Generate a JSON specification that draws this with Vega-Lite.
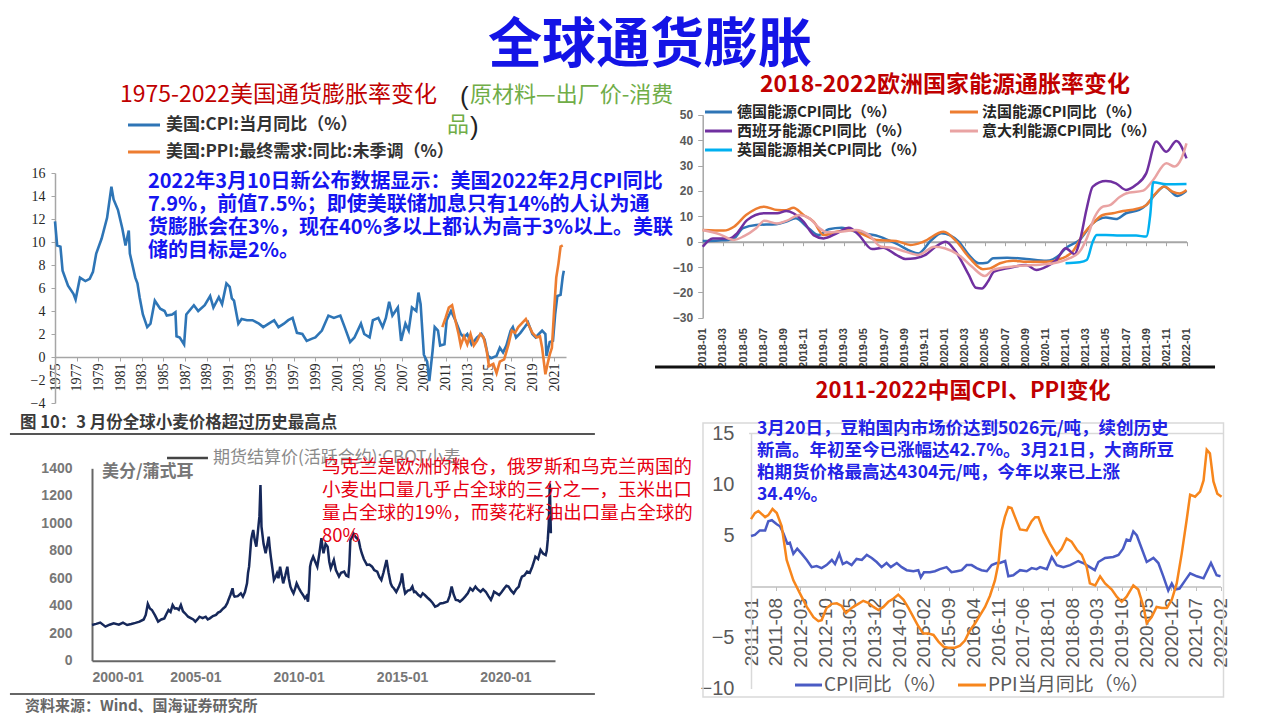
{
"$schema": "https://vega.github.io/schema/vega-lite/v6.json",
"width": 1267, "height": 720,
"autosize": {"type": "none"},
"padding": 0,
"background": "white",
"config": {"view": {"stroke": null}, "axis": {"grid": false}, "text": {"font": "Noto Sans CJK SC"}},
"datasets": {
"us": [
{"t":1975.0,"v":11.8,"s":"CPI"},{"t":1975.2,"v":9.7,"s":"CPI"},{"t":1975.5,"v":9.6,"s":"CPI"},{"t":1975.7,"v":7.5,"s":"CPI"},{"t":1976.2,"v":6.2,"s":"CPI"},{"t":1976.7,"v":5.5,"s":"CPI"},{"t":1976.9,"v":5.0,"s":"CPI"},{"t":1977.3,"v":6.9,"s":"CPI"},{"t":1977.8,"v":6.6,"s":"CPI"},{"t":1978.2,"v":6.8,"s":"CPI"},{"t":1978.5,"v":7.4,"s":"CPI"},{"t":1978.8,"v":9.0,"s":"CPI"},{"t":1979.3,"v":10.3,"s":"CPI"},{"t":1979.8,"v":12.1,"s":"CPI"},{"t":1980.2,"v":14.8,"s":"CPI"},{"t":1980.4,"v":13.7,"s":"CPI"},{"t":1980.8,"v":12.8,"s":"CPI"},{"t":1981.2,"v":11.2,"s":"CPI"},{"t":1981.5,"v":9.7,"s":"CPI"},{"t":1981.8,"v":11.0,"s":"CPI"},{"t":1981.9,"v":9.0,"s":"CPI"},{"t":1982.4,"v":6.9,"s":"CPI"},{"t":1982.6,"v":6.4,"s":"CPI"},{"t":1982.8,"v":5.2,"s":"CPI"},{"t":1983.1,"v":3.7,"s":"CPI"},{"t":1983.5,"v":2.6,"s":"CPI"},{"t":1983.8,"v":2.9,"s":"CPI"},{"t":1984.2,"v":4.9,"s":"CPI"},{"t":1984.7,"v":4.2,"s":"CPI"},{"t":1985.1,"v":4.0,"s":"CPI"},{"t":1985.3,"v":3.6,"s":"CPI"},{"t":1985.8,"v":3.7,"s":"CPI"},{"t":1986.1,"v":3.9,"s":"CPI"},{"t":1986.2,"v":1.8,"s":"CPI"},{"t":1986.5,"v":1.7,"s":"CPI"},{"t":1986.9,"v":1.1,"s":"CPI"},{"t":1987.1,"v":3.7,"s":"CPI"},{"t":1987.8,"v":4.5,"s":"CPI"},{"t":1988.2,"v":4.0,"s":"CPI"},{"t":1988.8,"v":4.5,"s":"CPI"},{"t":1989.3,"v":5.3,"s":"CPI"},{"t":1989.6,"v":4.3,"s":"CPI"},{"t":1990.1,"v":5.2,"s":"CPI"},{"t":1990.4,"v":4.6,"s":"CPI"},{"t":1990.8,"v":6.4,"s":"CPI"},{"t":1991.1,"v":6.1,"s":"CPI"},{"t":1991.3,"v":5.1,"s":"CPI"},{"t":1991.5,"v":4.9,"s":"CPI"},{"t":1991.9,"v":2.9,"s":"CPI"},{"t":1992.2,"v":3.3,"s":"CPI"},{"t":1992.7,"v":3.2,"s":"CPI"},{"t":1993.2,"v":3.2,"s":"CPI"},{"t":1993.8,"v":2.9,"s":"CPI"},{"t":1994.2,"v":2.6,"s":"CPI"},{"t":1994.7,"v":2.9,"s":"CPI"},{"t":1995.2,"v":3.2,"s":"CPI"},{"t":1995.6,"v":2.6,"s":"CPI"},{"t":1996.1,"v":2.9,"s":"CPI"},{"t":1996.5,"v":3.2,"s":"CPI"},{"t":1996.9,"v":3.4,"s":"CPI"},{"t":1997.3,"v":2.1,"s":"CPI"},{"t":1997.8,"v":2.0,"s":"CPI"},{"t":1998.2,"v":1.4,"s":"CPI"},{"t":1998.7,"v":1.6,"s":"CPI"},{"t":1999.0,"v":1.7,"s":"CPI"},{"t":1999.6,"v":2.3,"s":"CPI"},{"t":2000.2,"v":3.6,"s":"CPI"},{"t":2000.7,"v":3.4,"s":"CPI"},{"t":2001.3,"v":3.6,"s":"CPI"},{"t":2001.7,"v":2.6,"s":"CPI"},{"t":2002.2,"v":1.3,"s":"CPI"},{"t":2002.6,"v":1.7,"s":"CPI"},{"t":2003.2,"v":2.9,"s":"CPI"},{"t":2003.5,"v":2.0,"s":"CPI"},{"t":2004.0,"v":1.7,"s":"CPI"},{"t":2004.3,"v":3.2,"s":"CPI"},{"t":2004.8,"v":3.4,"s":"CPI"},{"t":2005.2,"v":2.6,"s":"CPI"},{"t":2005.5,"v":3.4,"s":"CPI"},{"t":2005.8,"v":4.8,"s":"CPI"},{"t":2006.1,"v":3.6,"s":"CPI"},{"t":2006.6,"v":4.3,"s":"CPI"},{"t":2006.9,"v":1.4,"s":"CPI"},{"t":2007.3,"v":2.9,"s":"CPI"},{"t":2007.6,"v":2.3,"s":"CPI"},{"t":2007.9,"v":4.3,"s":"CPI"},{"t":2008.3,"v":4.0,"s":"CPI"},{"t":2008.5,"v":5.6,"s":"CPI"},{"t":2008.7,"v":4.6,"s":"CPI"},{"t":2009.0,"v":0.2,"s":"CPI"},{"t":2009.3,"v":-0.4,"s":"CPI"},{"t":2009.5,"v":-2.1,"s":"CPI"},{"t":2009.8,"v":0.5,"s":"CPI"},{"t":2010.0,"v":2.6,"s":"CPI"},{"t":2010.3,"v":2.3,"s":"CPI"},{"t":2010.5,"v":1.0,"s":"CPI"},{"t":2010.9,"v":1.1,"s":"CPI"},{"t":2011.1,"v":3.2,"s":"CPI"},{"t":2011.5,"v":4.0,"s":"CPI"},{"t":2011.9,"v":3.2,"s":"CPI"},{"t":2012.4,"v":2.0,"s":"CPI"},{"t":2012.7,"v":1.7,"s":"CPI"},{"t":2013.0,"v":2.0,"s":"CPI"},{"t":2013.4,"v":1.1,"s":"CPI"},{"t":2013.9,"v":1.7,"s":"CPI"},{"t":2014.3,"v":2.0,"s":"CPI"},{"t":2014.6,"v":1.5,"s":"CPI"},{"t":2014.9,"v":0.1,"s":"CPI"},{"t":2015.2,"v":-0.1,"s":"CPI"},{"t":2015.7,"v":0.1,"s":"CPI"},{"t":2016.0,"v":0.8,"s":"CPI"},{"t":2016.3,"v":0.4,"s":"CPI"},{"t":2016.6,"v":1.0,"s":"CPI"},{"t":2017.0,"v":2.3,"s":"CPI"},{"t":2017.2,"v":2.6,"s":"CPI"},{"t":2017.5,"v":1.7,"s":"CPI"},{"t":2017.9,"v":2.1,"s":"CPI"},{"t":2018.3,"v":2.6,"s":"CPI"},{"t":2018.6,"v":3.0,"s":"CPI"},{"t":2019.0,"v":2.0,"s":"CPI"},{"t":2019.3,"v":1.7,"s":"CPI"},{"t":2019.6,"v":2.0,"s":"CPI"},{"t":2019.9,"v":2.3,"s":"CPI"},{"t":2020.2,"v":2.0,"s":"CPI"},{"t":2020.3,"v":0.1,"s":"CPI"},{"t":2020.6,"v":1.3,"s":"CPI"},{"t":2020.9,"v":1.4,"s":"CPI"},{"t":2021.1,"v":3.7,"s":"CPI"},{"t":2021.3,"v":5.3,"s":"CPI"},{"t":2021.6,"v":5.4,"s":"CPI"},{"t":2021.8,"v":7.0,"s":"CPI"},{"t":2021.9,"v":7.5,"s":"CPI"},
{"t":2010.7,"v":2.6,"s":"PPI"},{"t":2011.0,"v":3.4,"s":"PPI"},{"t":2011.3,"v":4.3,"s":"PPI"},{"t":2011.6,"v":4.5,"s":"PPI"},{"t":2011.9,"v":3.2,"s":"PPI"},{"t":2012.2,"v":2.0,"s":"PPI"},{"t":2012.4,"v":1.0,"s":"PPI"},{"t":2012.7,"v":1.8,"s":"PPI"},{"t":2013.0,"v":1.1,"s":"PPI"},{"t":2013.3,"v":2.0,"s":"PPI"},{"t":2013.6,"v":1.0,"s":"PPI"},{"t":2013.9,"v":1.4,"s":"PPI"},{"t":2014.2,"v":2.0,"s":"PPI"},{"t":2014.5,"v":1.7,"s":"PPI"},{"t":2014.8,"v":0.5,"s":"PPI"},{"t":2015.0,"v":-0.8,"s":"PPI"},{"t":2015.4,"v":-0.6,"s":"PPI"},{"t":2015.7,"v":-1.4,"s":"PPI"},{"t":2016.0,"v":-0.4,"s":"PPI"},{"t":2016.4,"v":-0.2,"s":"PPI"},{"t":2016.8,"v":1.1,"s":"PPI"},{"t":2017.1,"v":2.3,"s":"PPI"},{"t":2017.4,"v":2.1,"s":"PPI"},{"t":2017.7,"v":2.6,"s":"PPI"},{"t":2018.0,"v":2.9,"s":"PPI"},{"t":2018.4,"v":3.3,"s":"PPI"},{"t":2018.7,"v":2.7,"s":"PPI"},{"t":2019.0,"v":2.1,"s":"PPI"},{"t":2019.4,"v":1.7,"s":"PPI"},{"t":2019.7,"v":1.8,"s":"PPI"},{"t":2019.9,"v":0.8,"s":"PPI"},{"t":2020.2,"v":-1.5,"s":"PPI"},{"t":2020.4,"v":-0.6,"s":"PPI"},{"t":2020.6,"v":0.2,"s":"PPI"},{"t":2020.8,"v":0.8,"s":"PPI"},{"t":2021.0,"v":4.0,"s":"PPI"},{"t":2021.2,"v":6.9,"s":"PPI"},{"t":2021.4,"v":8.1,"s":"PPI"},{"t":2021.6,"v":9.6,"s":"PPI"},{"t":2021.8,"v":9.7,"s":"PPI"}
],
"eu": [
{"m":0,"v":0.3,"s":"DE"},{"m":1.6,"v":0.5,"s":"DE"},{"m":3.0,"v":1.0,"s":"DE"},{"m":4.0,"v":5.3,"s":"DE"},{"m":5.3,"v":6.6,"s":"DE"},{"m":7.3,"v":6.9,"s":"DE"},{"m":8.3,"v":7.9,"s":"DE"},{"m":9.2,"v":9.2,"s":"DE"},{"m":10.5,"v":5.3,"s":"DE"},{"m":11.5,"v":2.6,"s":"DE"},{"m":12.5,"v":4.9,"s":"DE"},{"m":13.8,"v":5.5,"s":"DE"},{"m":15.4,"v":3.6,"s":"DE"},{"m":17.4,"v":2.2,"s":"DE"},{"m":19.1,"v":-0.6,"s":"DE"},{"m":21.4,"v":-4.6,"s":"DE"},{"m":22.7,"v":0.7,"s":"DE"},{"m":23.7,"v":3.3,"s":"DE"},{"m":25.4,"v":0,"s":"DE"},{"m":26.4,"v":-5.2,"s":"DE"},{"m":27.4,"v":-8.5,"s":"DE"},{"m":28.2,"v":-8.3,"s":"DE"},{"m":28.8,"v":-6.5,"s":"DE"},{"m":30.2,"v":-6.3,"s":"DE"},{"m":32.1,"v":-6.8,"s":"DE"},{"m":34.1,"v":-7.5,"s":"DE"},{"m":35.4,"v":-5.2,"s":"DE"},{"m":36.0,"v":-2.6,"s":"DE"},{"m":37.4,"v":0.7,"s":"DE"},{"m":38.7,"v":7.2,"s":"DE"},{"m":40.0,"v":9.5,"s":"DE"},{"m":41.0,"v":8.9,"s":"DE"},{"m":42.0,"v":11.2,"s":"DE"},{"m":43.3,"v":12.5,"s":"DE"},{"m":44.0,"v":14.4,"s":"DE"},{"m":45.0,"v":19.1,"s":"DE"},{"m":45.8,"v":21.7,"s":"DE"},{"m":46.3,"v":20.4,"s":"DE"},{"m":47.1,"v":18.0,"s":"DE"},{"m":48.0,"v":20.0,"s":"DE"},
{"m":0,"v":4.6,"s":"FR"},{"m":2.1,"v":4.4,"s":"FR"},{"m":3.1,"v":5.9,"s":"FR"},{"m":4.3,"v":10.5,"s":"FR"},{"m":6.1,"v":13.8,"s":"FR"},{"m":7.4,"v":12.5,"s":"FR"},{"m":8.3,"v":12.4,"s":"FR"},{"m":9.0,"v":13.4,"s":"FR"},{"m":10.0,"v":10.5,"s":"FR"},{"m":11.0,"v":7.9,"s":"FR"},{"m":12.0,"v":2.6,"s":"FR"},{"m":13.3,"v":3.9,"s":"FR"},{"m":14.6,"v":4.6,"s":"FR"},{"m":15.9,"v":2.9,"s":"FR"},{"m":17.2,"v":0.7,"s":"FR"},{"m":19.2,"v":0.3,"s":"FR"},{"m":20.6,"v":-1.3,"s":"FR"},{"m":21.9,"v":0,"s":"FR"},{"m":23.9,"v":3.9,"s":"FR"},{"m":25.2,"v":0,"s":"FR"},{"m":26.5,"v":-6.5,"s":"FR"},{"m":27.8,"v":-10.8,"s":"FR"},{"m":28.5,"v":-10.5,"s":"FR"},{"m":29.5,"v":-8.5,"s":"FR"},{"m":30.8,"v":-7.5,"s":"FR"},{"m":32.1,"v":-7.9,"s":"FR"},{"m":34.1,"v":-7.9,"s":"FR"},{"m":35.7,"v":-6.5,"s":"FR"},{"m":36.7,"v":-3.9,"s":"FR"},{"m":37.7,"v":2.6,"s":"FR"},{"m":38.7,"v":7.2,"s":"FR"},{"m":39.7,"v":10.5,"s":"FR"},{"m":40.7,"v":11.2,"s":"FR"},{"m":41.7,"v":12.1,"s":"FR"},{"m":43.0,"v":12.9,"s":"FR"},{"m":44.0,"v":14.4,"s":"FR"},{"m":44.8,"v":18.4,"s":"FR"},{"m":45.8,"v":21.7,"s":"FR"},{"m":46.6,"v":19.7,"s":"FR"},{"m":47.3,"v":19.0,"s":"FR"},{"m":48.0,"v":20.4,"s":"FR"},
{"m":0,"v":-2.0,"s":"ES"},{"m":1.0,"v":1.3,"s":"ES"},{"m":2.7,"v":1.3,"s":"ES"},{"m":3.4,"v":3.3,"s":"ES"},{"m":4.4,"v":8.5,"s":"ES"},{"m":6.1,"v":11.2,"s":"ES"},{"m":7.4,"v":11.2,"s":"ES"},{"m":8.3,"v":12.1,"s":"ES"},{"m":9.0,"v":11.2,"s":"ES"},{"m":10.0,"v":7.9,"s":"ES"},{"m":11.0,"v":2.6,"s":"ES"},{"m":12.0,"v":1.3,"s":"ES"},{"m":13.3,"v":3.3,"s":"ES"},{"m":14.5,"v":5.5,"s":"ES"},{"m":15.5,"v":2.6,"s":"ES"},{"m":16.8,"v":-2.9,"s":"ES"},{"m":17.9,"v":-2.4,"s":"ES"},{"m":19.2,"v":-5.2,"s":"ES"},{"m":20.1,"v":-6.8,"s":"ES"},{"m":21.1,"v":-6.5,"s":"ES"},{"m":22.1,"v":-5.2,"s":"ES"},{"m":23.1,"v":-2.0,"s":"ES"},{"m":24.1,"v":0,"s":"ES"},{"m":25.1,"v":-3.9,"s":"ES"},{"m":26.4,"v":-13.1,"s":"ES"},{"m":27.1,"v":-18.1,"s":"ES"},{"m":27.7,"v":-18.4,"s":"ES"},{"m":28.3,"v":-15.7,"s":"ES"},{"m":28.9,"v":-11.8,"s":"ES"},{"m":30.2,"v":-10.5,"s":"ES"},{"m":32.1,"v":-9.2,"s":"ES"},{"m":33.1,"v":-11.1,"s":"ES"},{"m":34.1,"v":-9.8,"s":"ES"},{"m":35.1,"v":-7.2,"s":"ES"},{"m":36.0,"v":-2.6,"s":"ES"},{"m":36.9,"v":-4.9,"s":"ES"},{"m":37.4,"v":0,"s":"ES"},{"m":38.1,"v":13.1,"s":"ES"},{"m":38.7,"v":21.7,"s":"ES"},{"m":40.0,"v":23.9,"s":"ES"},{"m":41.0,"v":23.0,"s":"ES"},{"m":42.0,"v":20.4,"s":"ES"},{"m":43.0,"v":22.4,"s":"ES"},{"m":44.0,"v":26.9,"s":"ES"},{"m":45.0,"v":39.4,"s":"ES"},{"m":46.0,"v":35.4,"s":"ES"},{"m":47.0,"v":39.6,"s":"ES"},{"m":48.0,"v":32.8,"s":"ES"},
{"m":0,"v":4.6,"s":"IT"},{"m":1.7,"v":2.9,"s":"IT"},{"m":3.1,"v":0.7,"s":"IT"},{"m":4.1,"v":2.2,"s":"IT"},{"m":5.3,"v":5.3,"s":"IT"},{"m":6.1,"v":8.2,"s":"IT"},{"m":7.4,"v":7.2,"s":"IT"},{"m":8.3,"v":8.2,"s":"IT"},{"m":9.6,"v":10.5,"s":"IT"},{"m":10.6,"v":9.2,"s":"IT"},{"m":11.6,"v":5.3,"s":"IT"},{"m":12.3,"v":3.7,"s":"IT"},{"m":13.6,"v":3.9,"s":"IT"},{"m":15.2,"v":4.6,"s":"IT"},{"m":16.5,"v":2.6,"s":"IT"},{"m":17.7,"v":-2.0,"s":"IT"},{"m":18.8,"v":-2.4,"s":"IT"},{"m":20.1,"v":-3.9,"s":"IT"},{"m":21.4,"v":-5.2,"s":"IT"},{"m":23.0,"v":-2.0,"s":"IT"},{"m":24.0,"v":-2.6,"s":"IT"},{"m":25.4,"v":-5.2,"s":"IT"},{"m":26.7,"v":-9.8,"s":"IT"},{"m":28.0,"v":-13.5,"s":"IT"},{"m":28.8,"v":-11.1,"s":"IT"},{"m":30.8,"v":-9.8,"s":"IT"},{"m":32.8,"v":-9.2,"s":"IT"},{"m":34.8,"v":-8.5,"s":"IT"},{"m":36.4,"v":-6.5,"s":"IT"},{"m":37.4,"v":-3.9,"s":"IT"},{"m":38.1,"v":1.3,"s":"IT"},{"m":38.9,"v":9.8,"s":"IT"},{"m":39.7,"v":13.8,"s":"IT"},{"m":40.4,"v":14.4,"s":"IT"},{"m":41.4,"v":17.7,"s":"IT"},{"m":42.0,"v":19.0,"s":"IT"},{"m":43.7,"v":20.1,"s":"IT"},{"m":44.7,"v":24.3,"s":"IT"},{"m":46.0,"v":30.9,"s":"IT"},{"m":46.8,"v":29.6,"s":"IT"},{"m":47.5,"v":32.8,"s":"IT"},{"m":48.0,"v":38.7,"s":"IT"},
{"m":36.0,"v":-8.5,"s":"UK"},{"m":37.4,"v":-8.1,"s":"UK"},{"m":38.1,"v":-7.2,"s":"UK"},{"m":38.7,"v":0,"s":"UK"},{"m":39.1,"v":2.6,"s":"UK"},{"m":40.0,"v":2.6,"s":"UK"},{"m":41.4,"v":2.4,"s":"UK"},{"m":43.0,"v":2.4,"s":"UK"},{"m":44.0,"v":2.0,"s":"UK"},{"m":44.4,"v":10.5,"s":"UK"},{"m":44.7,"v":23.4,"s":"UK"},{"m":46.0,"v":22.6,"s":"UK"},{"m":48.0,"v":22.7,"s":"UK"}
],
"wheat": [
{"t":2000.0,"v":260},{"t":2000.2,"v":268},{"t":2000.4,"v":277},{"t":2000.65,"v":248},{"t":2000.85,"v":262},{"t":2001.05,"v":272},{"t":2001.3,"v":262},{"t":2001.5,"v":277},{"t":2001.7,"v":260},{"t":2001.9,"v":267},{"t":2002.1,"v":275},{"t":2002.3,"v":284},{"t":2002.5,"v":300},{"t":2002.6,"v":333},{"t":2002.7,"v":413},{"t":2002.8,"v":380},{"t":2002.9,"v":369},{"t":2003.05,"v":330},{"t":2003.2,"v":284},{"t":2003.35,"v":300},{"t":2003.5,"v":308},{"t":2003.6,"v":340},{"t":2003.7,"v":369},{"t":2003.8,"v":355},{"t":2003.9,"v":405},{"t":2004.0,"v":380},{"t":2004.1,"v":381},{"t":2004.2,"v":370},{"t":2004.3,"v":405},{"t":2004.4,"v":360},{"t":2004.5,"v":345},{"t":2004.65,"v":320},{"t":2004.8,"v":308},{"t":2004.9,"v":300},{"t":2005.0,"v":284},{"t":2005.1,"v":300},{"t":2005.2,"v":320},{"t":2005.35,"v":310},{"t":2005.5,"v":320},{"t":2005.6,"v":300},{"t":2005.7,"v":308},{"t":2005.85,"v":325},{"t":2006.0,"v":333},{"t":2006.1,"v":350},{"t":2006.2,"v":357},{"t":2006.35,"v":380},{"t":2006.45,"v":393},{"t":2006.55,"v":420},{"t":2006.6,"v":442},{"t":2006.7,"v":480},{"t":2006.8,"v":527},{"t":2006.85,"v":480},{"t":2006.9,"v":466},{"t":2007.05,"v":470},{"t":2007.2,"v":490},{"t":2007.3,"v":466},{"t":2007.4,"v":500},{"t":2007.5,"v":563},{"t":2007.55,"v":640},{"t":2007.6,"v":684},{"t":2007.65,"v":780},{"t":2007.7,"v":879},{"t":2007.75,"v":920},{"t":2007.8,"v":951},{"t":2007.87,"v":880},{"t":2007.95,"v":830},{"t":2008.0,"v":900},{"t":2008.05,"v":976},{"t":2008.1,"v":1050},{"t":2008.15,"v":1279},{"t":2008.18,"v":1100},{"t":2008.2,"v":976},{"t":2008.3,"v":850},{"t":2008.4,"v":782},{"t":2008.5,"v":860},{"t":2008.55,"v":903},{"t":2008.6,"v":820},{"t":2008.65,"v":757},{"t":2008.72,"v":680},{"t":2008.8,"v":587},{"t":2008.88,"v":610},{"t":2008.95,"v":636},{"t":2009.02,"v":600},{"t":2009.1,"v":684},{"t":2009.18,"v":620},{"t":2009.25,"v":563},{"t":2009.35,"v":620},{"t":2009.45,"v":684},{"t":2009.52,"v":600},{"t":2009.6,"v":539},{"t":2009.68,"v":510},{"t":2009.75,"v":490},{"t":2009.82,"v":520},{"t":2009.9,"v":563},{"t":2010.0,"v":530},{"t":2010.1,"v":502},{"t":2010.2,"v":480},{"t":2010.3,"v":454},{"t":2010.38,"v":470},{"t":2010.45,"v":430},{"t":2010.5,"v":520},{"t":2010.55,"v":684},{"t":2010.6,"v":720},{"t":2010.7,"v":757},{"t":2010.8,"v":720},{"t":2010.9,"v":684},{"t":2011.0,"v":780},{"t":2011.1,"v":891},{"t":2011.15,"v":830},{"t":2011.2,"v":782},{"t":2011.3,"v":850},{"t":2011.4,"v":830},{"t":2011.48,"v":720},{"t":2011.55,"v":672},{"t":2011.62,"v":700},{"t":2011.7,"v":733},{"t":2011.8,"v":660},{"t":2011.95,"v":612},{"t":2012.05,"v":640},{"t":2012.2,"v":648},{"t":2012.3,"v":620},{"t":2012.4,"v":612},{"t":2012.45,"v":700},{"t":2012.5,"v":879},{"t":2012.58,"v":900},{"t":2012.65,"v":927},{"t":2012.75,"v":900},{"t":2012.9,"v":879},{"t":2012.98,"v":820},{"t":2013.05,"v":782},{"t":2013.15,"v":740},{"t":2013.3,"v":697},{"t":2013.42,"v":700},{"t":2013.55,"v":684},{"t":2013.65,"v":660},{"t":2013.8,"v":648},{"t":2013.9,"v":610},{"t":2014.0,"v":587},{"t":2014.1,"v":640},{"t":2014.25,"v":733},{"t":2014.35,"v":640},{"t":2014.45,"v":563},{"t":2014.52,"v":540},{"t":2014.6,"v":527},{"t":2014.72,"v":500},{"t":2014.85,"v":539},{"t":2014.95,"v":580},{"t":2015.0,"v":636},{"t":2015.08,"v":540},{"t":2015.15,"v":490},{"t":2015.28,"v":510},{"t":2015.4,"v":515},{"t":2015.5,"v":540},{"t":2015.58,"v":500},{"t":2015.65,"v":502},{"t":2015.78,"v":480},{"t":2015.9,"v":466},{"t":2016.0,"v":490},{"t":2016.1,"v":478},{"t":2016.22,"v":460},{"t":2016.35,"v":442},{"t":2016.48,"v":420},{"t":2016.6,"v":393},{"t":2016.72,"v":400},{"t":2016.85,"v":417},{"t":2017.0,"v":420},{"t":2017.2,"v":430},{"t":2017.3,"v":470},{"t":2017.4,"v":539},{"t":2017.5,"v":480},{"t":2017.6,"v":442},{"t":2017.7,"v":440},{"t":2017.8,"v":430},{"t":2017.92,"v":445},{"t":2018.05,"v":466},{"t":2018.18,"v":490},{"t":2018.3,"v":527},{"t":2018.42,"v":510},{"t":2018.55,"v":539},{"t":2018.65,"v":520},{"t":2018.8,"v":502},{"t":2018.92,"v":520},{"t":2019.05,"v":502},{"t":2019.18,"v":470},{"t":2019.3,"v":442},{"t":2019.38,"v":470},{"t":2019.45,"v":502},{"t":2019.58,"v":490},{"t":2019.7,"v":478},{"t":2019.82,"v":500},{"t":2019.95,"v":527},{"t":2020.05,"v":545},{"t":2020.15,"v":539},{"t":2020.28,"v":510},{"t":2020.4,"v":490},{"t":2020.52,"v":520},{"t":2020.65,"v":539},{"t":2020.72,"v":580},{"t":2020.8,"v":612},{"t":2020.92,"v":620},{"t":2021.05,"v":648},{"t":2021.18,"v":640},{"t":2021.3,"v":684},{"t":2021.38,"v":720},{"t":2021.45,"v":757},{"t":2021.58,"v":740},{"t":2021.7,"v":806},{"t":2021.82,"v":780},{"t":2021.95,"v":769},{"t":2022.0,"v":800},{"t":2022.05,"v":879},{"t":2022.1,"v":1000},{"t":2022.15,"v":1291},{"t":2022.2,"v":927}
],
"cn": [
{"m":0,"v":4.95,"s":"CPI"},{"m":1.1,"v":5.05,"s":"CPI"},{"m":2.5,"v":5.5,"s":"CPI"},{"m":4,"v":5.5,"s":"CPI"},{"m":4.9,"v":6.4,"s":"CPI"},{"m":5.9,"v":6.5,"s":"CPI"},{"m":7.3,"v":6.1,"s":"CPI"},{"m":8.2,"v":5.9,"s":"CPI"},{"m":9.2,"v":5.2,"s":"CPI"},{"m":10.3,"v":4.2,"s":"CPI"},{"m":11,"v":4.3,"s":"CPI"},{"m":12,"v":3.2,"s":"CPI"},{"m":13.1,"v":3.7,"s":"CPI"},{"m":14.4,"v":3.2,"s":"CPI"},{"m":15.8,"v":2.6,"s":"CPI"},{"m":17.2,"v":1.9,"s":"CPI"},{"m":18.6,"v":2.0,"s":"CPI"},{"m":20,"v":1.8,"s":"CPI"},{"m":21.4,"v":2.1,"s":"CPI"},{"m":22.9,"v":2.6,"s":"CPI"},{"m":23.8,"v":2.2,"s":"CPI"},{"m":25,"v":3.2,"s":"CPI"},{"m":26,"v":2.2,"s":"CPI"},{"m":27.1,"v":2.4,"s":"CPI"},{"m":28.5,"v":2.1,"s":"CPI"},{"m":29.9,"v":2.7,"s":"CPI"},{"m":31.4,"v":2.6,"s":"CPI"},{"m":32.8,"v":3.1,"s":"CPI"},{"m":34.2,"v":2.8,"s":"CPI"},{"m":35.6,"v":2.4,"s":"CPI"},{"m":37,"v":1.9,"s":"CPI"},{"m":38.4,"v":2.3,"s":"CPI"},{"m":39.6,"v":1.9,"s":"CPI"},{"m":41.3,"v":2.3,"s":"CPI"},{"m":42.7,"v":1.9,"s":"CPI"},{"m":44.1,"v":1.6,"s":"CPI"},{"m":46,"v":1.5,"s":"CPI"},{"m":47.4,"v":1.6,"s":"CPI"},{"m":48.1,"v":0.9,"s":"CPI"},{"m":49,"v":1.4,"s":"CPI"},{"m":50.7,"v":1.4,"s":"CPI"},{"m":52.1,"v":1.5,"s":"CPI"},{"m":53.5,"v":1.7,"s":"CPI"},{"m":55.4,"v":1.9,"s":"CPI"},{"m":56.8,"v":1.4,"s":"CPI"},{"m":58.3,"v":1.5,"s":"CPI"},{"m":59.7,"v":1.6,"s":"CPI"},{"m":61.1,"v":2.1,"s":"CPI"},{"m":62.5,"v":2.1,"s":"CPI"},{"m":63.9,"v":1.8,"s":"CPI"},{"m":65.3,"v":1.6,"s":"CPI"},{"m":66.8,"v":1.5,"s":"CPI"},{"m":68.2,"v":2.1,"s":"CPI"},{"m":69.6,"v":2.3,"s":"CPI"},{"m":70.5,"v":2.3,"s":"CPI"},{"m":72,"v":2.5,"s":"CPI"},{"m":72.9,"v":1.0,"s":"CPI"},{"m":74.3,"v":1.1,"s":"CPI"},{"m":76.2,"v":1.6,"s":"CPI"},{"m":78.1,"v":1.5,"s":"CPI"},{"m":79.5,"v":1.8,"s":"CPI"},{"m":80.9,"v":1.7,"s":"CPI"},{"m":81.9,"v":1.9,"s":"CPI"},{"m":83.8,"v":1.7,"s":"CPI"},{"m":85.2,"v":2.9,"s":"CPI"},{"m":86.6,"v":2.1,"s":"CPI"},{"m":88.5,"v":1.9,"s":"CPI"},{"m":90.4,"v":2.1,"s":"CPI"},{"m":92.7,"v":2.5,"s":"CPI"},{"m":94.1,"v":2.3,"s":"CPI"},{"m":96,"v":1.9,"s":"CPI"},{"m":97.4,"v":1.6,"s":"CPI"},{"m":98.4,"v":2.4,"s":"CPI"},{"m":100.3,"v":2.8,"s":"CPI"},{"m":102.6,"v":2.9,"s":"CPI"},{"m":104.1,"v":3.1,"s":"CPI"},{"m":105.4,"v":3.7,"s":"CPI"},{"m":106.4,"v":4.6,"s":"CPI"},{"m":107.4,"v":4.5,"s":"CPI"},{"m":108.3,"v":5.4,"s":"CPI"},{"m":109.3,"v":5.0,"s":"CPI"},{"m":110.7,"v":3.7,"s":"CPI"},{"m":112.1,"v":2.4,"s":"CPI"},{"m":114,"v":2.8,"s":"CPI"},{"m":115.4,"v":2.3,"s":"CPI"},{"m":116.8,"v":1.0,"s":"CPI"},{"m":118.2,"v":-0.4,"s":"CPI"},{"m":119.2,"v":0.3,"s":"CPI"},{"m":120.1,"v":-0.3,"s":"CPI"},{"m":121.4,"v":-0.2,"s":"CPI"},{"m":123,"v":0.6,"s":"CPI"},{"m":124.4,"v":1.3,"s":"CPI"},{"m":126.3,"v":1.0,"s":"CPI"},{"m":128.2,"v":0.8,"s":"CPI"},{"m":130.3,"v":2.3,"s":"CPI"},{"m":131.9,"v":1.1,"s":"CPI"},{"m":133,"v":1.0,"s":"CPI"},
{"m":0,"v":6.6,"s":"PPI"},{"m":1.1,"v":7.2,"s":"PPI"},{"m":2.1,"v":7.4,"s":"PPI"},{"m":4,"v":6.8,"s":"PPI"},{"m":4.9,"v":7.0,"s":"PPI"},{"m":6.1,"v":7.6,"s":"PPI"},{"m":7.3,"v":7.2,"s":"PPI"},{"m":8.7,"v":5.9,"s":"PPI"},{"m":10.1,"v":2.6,"s":"PPI"},{"m":12,"v":0.6,"s":"PPI"},{"m":13.9,"v":-0.7,"s":"PPI"},{"m":15.8,"v":-2.0,"s":"PPI"},{"m":17.7,"v":-3.0,"s":"PPI"},{"m":19.1,"v":-3.4,"s":"PPI"},{"m":20,"v":-3.3,"s":"PPI"},{"m":21.4,"v":-2.1,"s":"PPI"},{"m":22.9,"v":-1.7,"s":"PPI"},{"m":24.3,"v":-1.65,"s":"PPI"},{"m":25.7,"v":-1.9,"s":"PPI"},{"m":26.9,"v":-2.6,"s":"PPI"},{"m":28.5,"v":-2.1,"s":"PPI"},{"m":30.4,"v":-1.7,"s":"PPI"},{"m":31.8,"v":-1.4,"s":"PPI"},{"m":33.2,"v":-1.6,"s":"PPI"},{"m":34.7,"v":-2.0,"s":"PPI"},{"m":36.1,"v":-2.3,"s":"PPI"},{"m":37.5,"v":-2.0,"s":"PPI"},{"m":38.9,"v":-1.5,"s":"PPI"},{"m":40.3,"v":-1.2,"s":"PPI"},{"m":41.7,"v":-0.8,"s":"PPI"},{"m":43.2,"v":-1.3,"s":"PPI"},{"m":44.6,"v":-2.1,"s":"PPI"},{"m":46,"v":-3.0,"s":"PPI"},{"m":47.4,"v":-3.9,"s":"PPI"},{"m":48.8,"v":-4.6,"s":"PPI"},{"m":50.2,"v":-4.6,"s":"PPI"},{"m":51.7,"v":-4.75,"s":"PPI"},{"m":53.1,"v":-5.4,"s":"PPI"},{"m":54.5,"v":-5.9,"s":"PPI"},{"m":55.9,"v":-6.0,"s":"PPI"},{"m":57.8,"v":-6.0,"s":"PPI"},{"m":59.2,"v":-5.8,"s":"PPI"},{"m":60.6,"v":-5.3,"s":"PPI"},{"m":62,"v":-4.3,"s":"PPI"},{"m":63.5,"v":-3.6,"s":"PPI"},{"m":64.9,"v":-2.8,"s":"PPI"},{"m":66.3,"v":-2.0,"s":"PPI"},{"m":67.7,"v":-0.9,"s":"PPI"},{"m":69.1,"v":0.6,"s":"PPI"},{"m":70.1,"v":2.3,"s":"PPI"},{"m":71,"v":5.5,"s":"PPI"},{"m":71.9,"v":6.8,"s":"PPI"},{"m":72.9,"v":7.8,"s":"PPI"},{"m":73.8,"v":7.7,"s":"PPI"},{"m":74.8,"v":6.8,"s":"PPI"},{"m":76.2,"v":5.6,"s":"PPI"},{"m":78.1,"v":5.5,"s":"PPI"},{"m":79.5,"v":6.4,"s":"PPI"},{"m":80.5,"v":6.8,"s":"PPI"},{"m":81.4,"v":6.8,"s":"PPI"},{"m":82.9,"v":5.4,"s":"PPI"},{"m":84.7,"v":4.2,"s":"PPI"},{"m":86.6,"v":3.1,"s":"PPI"},{"m":88,"v":3.7,"s":"PPI"},{"m":89.4,"v":4.7,"s":"PPI"},{"m":90.8,"v":4.4,"s":"PPI"},{"m":92.3,"v":3.6,"s":"PPI"},{"m":93.7,"v":3.1,"s":"PPI"},{"m":95.1,"v":1.9,"s":"PPI"},{"m":96,"v":0.3,"s":"PPI"},{"m":97.5,"v":0.1,"s":"PPI"},{"m":98.9,"v":1.0,"s":"PPI"},{"m":100.3,"v":0.3,"s":"PPI"},{"m":102.2,"v":-0.3,"s":"PPI"},{"m":103.6,"v":-1.0,"s":"PPI"},{"m":105,"v":-1.5,"s":"PPI"},{"m":106.4,"v":-1.0,"s":"PPI"},{"m":108.3,"v":0.1,"s":"PPI"},{"m":109.7,"v":-0.3,"s":"PPI"},{"m":111.2,"v":-2.0,"s":"PPI"},{"m":112.1,"v":-3.6,"s":"PPI"},{"m":113.5,"v":-3.0,"s":"PPI"},{"m":114.9,"v":-2.0,"s":"PPI"},{"m":116.4,"v":-2.1,"s":"PPI"},{"m":117.8,"v":-2.1,"s":"PPI"},{"m":119.2,"v":-1.3,"s":"PPI"},{"m":120.6,"v":0.3,"s":"PPI"},{"m":122,"v":3.2,"s":"PPI"},{"m":123.4,"v":6.5,"s":"PPI"},{"m":124.4,"v":9.0,"s":"PPI"},{"m":125.8,"v":8.8,"s":"PPI"},{"m":127.2,"v":9.3,"s":"PPI"},{"m":128.2,"v":10.4,"s":"PPI"},{"m":129.1,"v":13.4,"s":"PPI"},{"m":130,"v":13.05,"s":"PPI"},{"m":131,"v":10.3,"s":"PPI"},{"m":132.1,"v":9.1,"s":"PPI"},{"m":133.3,"v":8.8,"s":"PPI"}
]
},
"layer": [
{
"data": {"name": "us"},
"layer": [
{"mark": {"type": "line", "strokeWidth": 2.6},
 "encoding": {
  "x": {"field": "t", "type": "quantitative", "scale": {"domain": [1975, 2022.1], "range": [55, 566], "nice": false, "zero": false},
        "axis": {"orient": "bottom", "offset": -363, "title": null, "grid": false, "values": [1975,1977,1979,1981,1983,1985,1987,1989,1991,1993,1995,1997,1999,2001,2003,2005,2007,2009,2011,2013,2015,2017,2019,2021], "format": "d", "labelAngle": -90, "labelFont": "Liberation Serif", "labelFontSize": 14, "labelColor": "#262626", "labelPadding": 2, "labelOverlap": false, "tickSize": 4, "tickColor": "#a6a6a6", "domainColor": "#a6a6a6", "domainWidth": 1.5}},
  "y": {"field": "v", "type": "quantitative", "scale": {"domain": [-4, 16], "range": [403, 173], "nice": false, "zero": false},
        "axis": {"orient": "left", "offset": -55, "title": null, "grid": false, "values": [-4,-2,0,2,4,6,8,10,12,14,16], "labelFont": "Liberation Serif", "labelFontSize": 14, "labelColor": "#262626", "labelPadding": 6, "tickSize": 4, "tickColor": "#a6a6a6", "domainColor": "#a6a6a6", "domainWidth": 1.5}},
  "color": {"field": "s", "type": "nominal", "scale": {"domain": ["CPI", "PPI"], "range": ["#2e75b6", "#ed7d31"]}, "legend": null}
 }},
{"data": {"values": [{}]}, "mark": {"type": "text", "text": "全球通货膨胀", "font": "Noto Sans CJK SC", "fontSize": 54, "fontWeight": "bold", "color": "#1414e6", "align": "center", "baseline": "middle"},
 "encoding": {"x": {"datum": 2029.84, "type": "quantitative"}, "y": {"datum": 26.95, "type": "quantitative"}}},
{"data": {"values": [{}]}, "mark": {"type": "text", "text": "1975-2022美国通货膨胀率变化", "font": "Noto Sans CJK SC", "fontSize": 23, "color": "#c00000", "align": "left", "baseline": "middle"},
 "encoding": {"x": {"datum": 1980.99, "type": "quantitative"}, "y": {"datum": 22.78, "type": "quantitative"}}},
{"data": {"values": [{}]}, "mark": {"type": "text", "text": "(", "font": "Liberation Sans", "fontSize": 26, "color": "#222222", "align": "left", "baseline": "middle"},
 "encoding": {"x": {"datum": 2012.33, "type": "quantitative"}, "y": {"datum": 22.6, "type": "quantitative"}}},
{"data": {"values": [{}]}, "mark": {"type": "text", "text": "原材料—出厂价-消费", "font": "Noto Sans CJK SC", "fontSize": 22, "color": "#70ad47", "align": "left", "baseline": "middle"},
 "encoding": {"x": {"datum": 2013.25, "type": "quantitative"}, "y": {"datum": 22.78, "type": "quantitative"}}},
{"data": {"values": [{}]}, "mark": {"type": "text", "text": "品", "font": "Noto Sans CJK SC", "fontSize": 22, "color": "#70ad47", "align": "left", "baseline": "middle"},
 "encoding": {"x": {"datum": 2011.13, "type": "quantitative"}, "y": {"datum": 20.17, "type": "quantitative"}}},
{"data": {"values": [{}]}, "mark": {"type": "text", "text": ")", "font": "Liberation Sans", "fontSize": 26, "color": "#222222", "align": "left", "baseline": "middle"},
 "encoding": {"x": {"datum": 2013.25, "type": "quantitative"}, "y": {"datum": 20.0, "type": "quantitative"}}},
{"data": {"values": [{}]}, "mark": {"type": "rule", "color": "#2e75b6", "strokeWidth": 3},
 "encoding": {"x": {"datum": 1981.73, "type": "quantitative"}, "x2": {"datum": 1984.68}, "y": {"datum": 20.17, "type": "quantitative"}}},
{"data": {"values": [{}]}, "mark": {"type": "text", "text": "美国:CPI:当月同比（%）", "font": "Noto Sans CJK SC", "fontSize": 17, "fontWeight": "bold", "color": "#333333", "align": "left", "baseline": "middle"},
 "encoding": {"x": {"datum": 1985.23, "type": "quantitative"}, "y": {"datum": 20.17, "type": "quantitative"}}},
{"data": {"values": [{}]}, "mark": {"type": "rule", "color": "#ed7d31", "strokeWidth": 3},
 "encoding": {"x": {"datum": 1981.73, "type": "quantitative"}, "x2": {"datum": 1984.68}, "y": {"datum": 17.83, "type": "quantitative"}}},
{"data": {"values": [{}]}, "mark": {"type": "text", "text": "美国:PPI:最终需求:同比:未季调（%）", "font": "Noto Sans CJK SC", "fontSize": 17, "fontWeight": "bold", "color": "#333333", "align": "left", "baseline": "middle"},
 "encoding": {"x": {"datum": 1985.23, "type": "quantitative"}, "y": {"datum": 17.83, "type": "quantitative"}}},
{"data": {"values": [{}]}, "mark": {"type": "text", "text": ["2022年3月10日新公布数据显示：美国2022年2月CPI同比", "7.9%，前值7.5%；即使美联储加息只有14%的人认为通", "货膨胀会在3%，现在40%多以上都认为高于3%以上。美联", "储的目标是2%。"], "font": "Noto Sans CJK SC", "fontSize": 20, "fontWeight": "bold", "lineHeight": 23, "color": "#1515f0", "align": "left", "baseline": "top"},
 "encoding": {"x": {"datum": 1983.57, "type": "quantitative"}, "y": {"datum": 16.09, "type": "quantitative"}}}
]
},
{
"data": {"name": "eu"},
"layer": [
{"mark": {"type": "line", "strokeWidth": 2.5, "interpolate": "monotone"},
 "encoding": {
  "x": {"field": "m", "type": "quantitative", "scale": {"domain": [0, 48], "range": [702.7, 1186.5], "nice": false, "zero": false},
        "axis": {"orient": "bottom", "offset": -478.3, "title": null, "grid": false, "values": [0,2,4,6,8,10,12,14,16,18,20,22,24,26,28,30,32,34,36,38,40,42,44,46,48], "labelExpr": "(2018 + floor(datum.value / 12)) + '-' + ((datum.value % 12) < 9 ? '0' : '') + ((datum.value % 12) + 1)", "labelAngle": -90, "labelFont": "Liberation Sans", "labelFontWeight": "bold", "labelFontSize": 11, "labelColor": "#404040", "labelPadding": 82, "labelOverlap": false, "tickSize": 4, "tickColor": "#a6a6a6", "domainColor": "#a6a6a6", "domainWidth": 2}},
  "y": {"field": "v", "type": "quantitative", "scale": {"domain": [-30, 50], "range": [317.9, 114.7], "nice": false, "zero": false},
        "axis": {"orient": "left", "offset": -702.7, "title": null, "grid": false, "values": [-30,-20,-10,0,10,20,30,40,50], "labelFont": "Liberation Sans", "labelFontWeight": "bold", "labelFontSize": 12, "labelColor": "#595959", "labelPadding": 5, "tickSize": 5, "tickColor": "#a6a6a6", "domainColor": "#a6a6a6", "domainWidth": 1.5}},
  "color": {"field": "s", "type": "nominal", "scale": {"domain": ["DE", "FR", "ES", "IT", "UK"], "range": ["#2e75b6", "#ed7d31", "#7030a0", "#e9a3a3", "#00b0f0"]}, "legend": null}
 }},
{"data": {"values": [{}]}, "mark": {"type": "text", "text": "2018-2022欧洲国家能源通胀率变化", "font": "Noto Sans CJK SC", "fontSize": 23, "fontWeight": "bold", "color": "#c00000", "align": "center", "baseline": "middle"},
 "encoding": {"x": {"datum": 24.04, "type": "quantitative"}, "y": {"datum": 61.69, "type": "quantitative"}}},
{"data": {"values": [{}]}, "mark": {"type": "rule", "color": "#2e75b6", "strokeWidth": 3},
 "encoding": {"x": {"datum": 0.23, "type": "quantitative"}, "x2": {"datum": 2.91}, "y": {"datum": 51.06, "type": "quantitative"}}},
{"data": {"values": [{}]}, "mark": {"type": "text", "text": "德国能源CPI同比（%）", "font": "Noto Sans CJK SC", "fontSize": 15, "fontWeight": "bold", "color": "#262626", "align": "left", "baseline": "middle"},
 "encoding": {"x": {"datum": 3.4, "type": "quantitative"}, "y": {"datum": 51.06, "type": "quantitative"}}},
{"data": {"values": [{}]}, "mark": {"type": "rule", "color": "#7030a0", "strokeWidth": 3},
 "encoding": {"x": {"datum": 0.23, "type": "quantitative"}, "x2": {"datum": 2.91}, "y": {"datum": 43.58, "type": "quantitative"}}},
{"data": {"values": [{}]}, "mark": {"type": "text", "text": "西班牙能源CPI同比（%）", "font": "Noto Sans CJK SC", "fontSize": 15, "fontWeight": "bold", "color": "#262626", "align": "left", "baseline": "middle"},
 "encoding": {"x": {"datum": 3.4, "type": "quantitative"}, "y": {"datum": 43.58, "type": "quantitative"}}},
{"data": {"values": [{}]}, "mark": {"type": "rule", "color": "#00b0f0", "strokeWidth": 3},
 "encoding": {"x": {"datum": 0.23, "type": "quantitative"}, "x2": {"datum": 2.91}, "y": {"datum": 36.1, "type": "quantitative"}}},
{"data": {"values": [{}]}, "mark": {"type": "text", "text": "英国能源相关CPI同比（%）", "font": "Noto Sans CJK SC", "fontSize": 15, "fontWeight": "bold", "color": "#262626", "align": "left", "baseline": "middle"},
 "encoding": {"x": {"datum": 3.4, "type": "quantitative"}, "y": {"datum": 36.1, "type": "quantitative"}}},
{"data": {"values": [{}]}, "mark": {"type": "rule", "color": "#ed7d31", "strokeWidth": 3},
 "encoding": {"x": {"datum": 24.53, "type": "quantitative"}, "x2": {"datum": 27.31}, "y": {"datum": 51.06, "type": "quantitative"}}},
{"data": {"values": [{}]}, "mark": {"type": "text", "text": "法国能源CPI同比（%）", "font": "Noto Sans CJK SC", "fontSize": 15, "fontWeight": "bold", "color": "#262626", "align": "left", "baseline": "middle"},
 "encoding": {"x": {"datum": 27.71, "type": "quantitative"}, "y": {"datum": 51.06, "type": "quantitative"}}},
{"data": {"values": [{}]}, "mark": {"type": "rule", "color": "#e9a3a3", "strokeWidth": 3},
 "encoding": {"x": {"datum": 24.53, "type": "quantitative"}, "x2": {"datum": 27.31}, "y": {"datum": 43.58, "type": "quantitative"}}},
{"data": {"values": [{}]}, "mark": {"type": "text", "text": "意大利能源CPI同比（%）", "font": "Noto Sans CJK SC", "fontSize": 15, "fontWeight": "bold", "color": "#262626", "align": "left", "baseline": "middle"},
 "encoding": {"x": {"datum": 27.71, "type": "quantitative"}, "y": {"datum": 43.58, "type": "quantitative"}}},
{"data": {"values": [{}]}, "mark": {"type": "rule", "color": "#111111", "strokeWidth": 3},
 "encoding": {"x": {"datum": -4.73, "type": "quantitative"}, "x2": {"datum": 50.83}, "y": {"datum": -49.33, "type": "quantitative"}}}
]
},
{
"data": {"name": "wheat"},
"layer": [
{"mark": {"type": "line", "strokeWidth": 2.5, "color": "#16285a"},
 "encoding": {
  "x": {"field": "t", "type": "quantitative", "scale": {"domain": [2000, 2022.4], "range": [92, 555], "nice": false, "zero": false},
        "axis": {"orient": "bottom", "offset": -59.3, "title": null, "grid": false, "values": [2000, 2005, 2010, 2015, 2020], "labelExpr": "datum.value + '-01'", "labelFont": "Liberation Sans", "labelFontWeight": "bold", "labelFontSize": 14, "labelColor": "#777777", "labelPadding": 10, "ticks": false, "domainColor": "#666666", "domainWidth": 2}},
  "y": {"field": "v", "type": "quantitative", "scale": {"domain": [0, 1400], "range": [660.7, 468.3], "nice": false, "zero": false},
        "axis": {"orient": "left", "offset": -92, "title": null, "grid": false, "values": [0,200,400,600,800,1000,1200,1400], "format": "d", "labelFont": "Liberation Sans", "labelFontWeight": "bold", "labelFontSize": 14, "labelColor": "#777777", "labelPadding": 20, "ticks": false, "domainColor": "#666666", "domainWidth": 2}}
 }},
{"data": {"values": [{}]}, "mark": {"type": "text", "text": "图 10：3 月份全球小麦价格超过历史最高点", "font": "Noto Sans CJK SC", "fontSize": 16.5, "fontWeight": "bold", "color": "#3a3a3a", "align": "left", "baseline": "middle"},
 "encoding": {"x": {"datum": 1996.52, "type": "quantitative"}, "y": {"datum": 1730, "type": "quantitative"}}},
{"data": {"values": [{}]}, "mark": {"type": "rule", "color": "#555555", "strokeWidth": 2},
 "encoding": {"x": {"datum": 1996.03, "type": "quantitative"}, "x2": {"datum": 2024.33}, "y": {"datum": 1649.5, "type": "quantitative"}}},
{"data": {"values": [{}]}, "mark": {"type": "rule", "color": "#444444", "strokeWidth": 2.5},
 "encoding": {"x": {"datum": 2003.63, "type": "quantitative"}, "x2": {"datum": 2005.61}, "y": {"datum": 1475, "type": "quantitative"}}},
{"data": {"values": [{}]}, "mark": {"type": "text", "text": "期货结算价(活跃合约):CBOT小麦", "font": "Noto Sans CJK SC", "fontSize": 17, "color": "#8a8a8a", "align": "left", "baseline": "middle"},
 "encoding": {"x": {"datum": 2005.85, "type": "quantitative"}, "y": {"datum": 1475, "type": "quantitative"}}},
{"data": {"values": [{}]}, "mark": {"type": "text", "text": "美分/蒲式耳", "font": "Noto Sans CJK SC", "fontSize": 17, "fontWeight": "bold", "color": "#777777", "align": "left", "baseline": "middle"},
 "encoding": {"x": {"datum": 2000.48, "type": "quantitative"}, "y": {"datum": 1373, "type": "quantitative"}}},
{"data": {"values": [{}]}, "mark": {"type": "rule", "color": "#666666", "strokeWidth": 2},
 "encoding": {"x": {"datum": 1996.03, "type": "quantitative"}, "x2": {"datum": 2024.33}, "y": {"datum": -242.3, "type": "quantitative"}}},
{"data": {"values": [{}]}, "mark": {"type": "text", "text": "资料来源：Wind、国海证券研究所", "font": "Noto Sans CJK SC", "fontSize": 15, "fontWeight": "bold", "color": "#666666", "align": "left", "baseline": "middle"},
 "encoding": {"x": {"datum": 1996.76, "type": "quantitative"}, "y": {"datum": -329.6, "type": "quantitative"}}},
{"data": {"values": [{}]}, "mark": {"type": "text", "text": ["乌克兰是欧洲的粮仓，俄罗斯和乌克兰两国的", "小麦出口量几乎占全球的三分之一，玉米出口", "量占全球的19%，而葵花籽油出口量占全球的", "80%"], "font": "Noto Sans CJK SC", "fontSize": 18.5, "lineHeight": 23, "color": "#e60012", "align": "left", "baseline": "top"},
 "encoding": {"x": {"datum": 2011.13, "type": "quantitative"}, "y": {"datum": 1474.9, "type": "quantitative"}}}
]
},
{
"data": {"name": "cn"},
"layer": [
{"mark": {"type": "line", "strokeWidth": 2.5},
 "encoding": {
  "x": {"field": "m", "type": "quantitative", "scale": {"domain": [0, 133], "range": [751, 1220.5], "nice": false, "zero": false},
        "axis": {"orient": "bottom", "offset": -133.5, "title": null, "grid": false, "values": [0,7,14,21,28,35,42,49,56,63,70,77,84,91,98,105,112,119,126,133], "labelExpr": "(2011 + floor(datum.value / 12)) + '-' + ((datum.value % 12) < 9 ? '0' : '') + ((datum.value % 12) + 1)", "labelAngle": -90, "labelFont": "Liberation Sans", "labelFontSize": 19, "labelColor": "#595959", "labelPadding": 7, "labelOverlap": false, "tickSize": 4, "tickColor": "#bfbfbf", "domainColor": "#bfbfbf", "domainWidth": 1.5}},
  "y": {"field": "v", "type": "quantitative", "scale": {"domain": [-10, 15], "range": [688.5, 433.5], "nice": false, "zero": false},
        "axis": {"orient": "left", "offset": -751, "title": null, "grid": false, "values": [-10,-5,5,10,15], "labelFont": "Liberation Sans", "labelFontSize": 20, "labelColor": "#595959", "labelPadding": 17, "ticks": false, "domainColor": "#d9d9d9", "domainWidth": 1.5}},
  "color": {"field": "s", "type": "nominal", "scale": {"domain": ["CPI", "PPI"], "range": ["#4a5bc4", "#f7861c"]}, "legend": null}
 }},
{"data": {"values": [{}]}, "mark": {"type": "rect", "fillOpacity": 0, "stroke": "#d9d9d9", "strokeWidth": 1.5},
 "encoding": {"x": {"datum": -13.6, "type": "quantitative"}, "x2": {"datum": 133.85}, "y": {"datum": 16.03, "type": "quantitative"}, "y2": {"datum": -10.83}}},
{"data": {"values": [{}]}, "mark": {"type": "rule", "color": "#d9d9d9", "strokeWidth": 1.5},
 "encoding": {"x": {"datum": -0.57, "type": "quantitative"}, "x2": {"datum": 133.85}, "y": {"datum": 15, "type": "quantitative"}}},
{"data": {"values": [{}]}, "mark": {"type": "text", "text": "2011-2022中国CPI、PPI变化", "font": "Noto Sans CJK SC", "fontSize": 22, "fontWeight": "bold", "color": "#c00000", "align": "center", "baseline": "middle"},
 "encoding": {"x": {"datum": 60.06, "type": "quantitative"}, "y": {"datum": 19.17, "type": "quantitative"}}},
{"data": {"values": [{}]}, "mark": {"type": "text", "text": ["3月20日，豆粕国内市场价达到5026元/吨，续创历史", "新高。年初至今已涨幅达42.7%。3月21日，大商所豆", "粕期货价格最高达4304元/吨，今年以来已上涨", "34.4%。"], "font": "Noto Sans CJK SC", "fontSize": 17.5, "fontWeight": "bold", "lineHeight": 22, "color": "#2323e6", "align": "left", "baseline": "top"},
 "encoding": {"x": {"datum": 1.7, "type": "quantitative"}, "y": {"datum": 16.32, "type": "quantitative"}}},
{"data": {"values": [{}]}, "mark": {"type": "rule", "color": "#4a5bc4", "strokeWidth": 3},
 "encoding": {"x": {"datum": 12.46, "type": "quantitative"}, "x2": {"datum": 20.11}, "y": {"datum": -9.66, "type": "quantitative"}}},
{"data": {"values": [{}]}, "mark": {"type": "text", "text": "CPI同比（%）", "font": "Noto Sans CJK SC", "fontSize": 19, "color": "#595959", "align": "left", "baseline": "middle"},
 "encoding": {"x": {"datum": 20.68, "type": "quantitative"}, "y": {"datum": -9.66, "type": "quantitative"}}},
{"data": {"values": [{}]}, "mark": {"type": "rule", "color": "#f7861c", "strokeWidth": 3},
 "encoding": {"x": {"datum": 58.64, "type": "quantitative"}, "x2": {"datum": 66.57}, "y": {"datum": -9.66, "type": "quantitative"}}},
{"data": {"values": [{}]}, "mark": {"type": "text", "text": "PPI当月同比（%）", "font": "Noto Sans CJK SC", "fontSize": 19, "color": "#595959", "align": "left", "baseline": "middle"},
 "encoding": {"x": {"datum": 67.14, "type": "quantitative"}, "y": {"datum": -9.66, "type": "quantitative"}}}
]
}
],
"resolve": {"scale": {"x": "independent", "y": "independent", "color": "independent"}, "axis": {"x": "independent", "y": "independent"}}
}
